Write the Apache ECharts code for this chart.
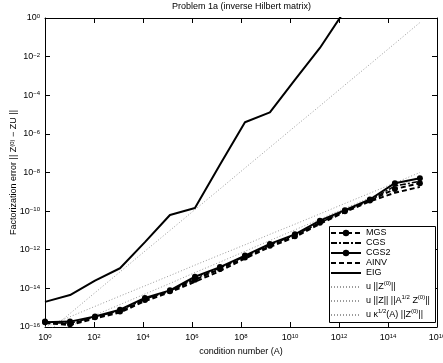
<!DOCTYPE html>
<html>
<head>
<meta charset="utf-8">
<script src="https://cdn.jsdelivr.net/npm/echarts@6/dist/echarts.min.js"></script>
<style>
    html, body { margin: 0; padding: 0; background: #fff; }
    #chart { width: 443px; height: 363px; }
</style>
</head>
<body>
<div id="chart"></div>
<script>
    // condition number of each test matrix
    var condition = [1, 10.5, 110, 1150, 1.2e4, 1.26e5, 1.32e6, 1.38e7, 1.45e8, 1.51e9,
        1.58e10, 1.66e11, 1.74e12, 1.82e13, 1.91e14, 2.0e15];

    // factorization errors
    var mgs = [1.9e-16, 1.4e-16, 3.2e-16, 6.3e-16, 2.5e-15, 7.1e-15, 2.8e-14, 1.0e-13, 4.0e-13, 1.6e-12,
        5.0e-12, 2.5e-11, 1.0e-10, 3.5e-10, 1.4e-9, 2.8e-9];
    var cgs = [1.66e-16, 1.6e-16, 3.2e-16, 7.1e-16, 2.8e-15, 7.1e-15, 3.2e-14, 1.12e-13, 4.5e-13, 1.8e-12,
        5.6e-12, 2.5e-11, 1.0e-10, 3.5e-10, 2.0e-9, 3.5e-9];
    var cgs2 = [1.78e-16, 1.9e-16, 3.5e-16, 7.9e-16, 3.2e-15, 7.9e-15, 4.0e-14, 1.26e-13, 5.0e-13, 2.0e-12,
        6.3e-12, 3.2e-11, 1.12e-10, 4.0e-10, 2.8e-9, 5.0e-9];
    var ainv = [1.6e-16, 1.26e-16, 2.8e-16, 5.6e-16, 2.2e-15, 6.3e-15, 2.2e-14, 7.9e-14, 3.5e-13, 1.4e-12,
        4.5e-12, 2.2e-11, 8.9e-11, 3.2e-10, 8.9e-10, 1.8e-9];
    var eig = [2.0e-15, 4.5e-15, 2.5e-14, 1.1e-13, 2.5e-12, 6.3e-11, 1.45e-10, 2.5e-8, 4.0e-6, 1.3e-5,
        6.3e-4, 2.8e-2, 2.5];

    // reference bounds
    var boundZ0 = [4.3e-17, 5.0e-16, 6.0e-15, 7.1e-14, 8.5e-13, 1.0e-11, 1.2e-10, 1.4e-9, 1.7e-8, 2.0e-7,
        2.4e-6, 2.8e-5, 3.4e-4, 4.0e-3, 4.8e-2, 0.58];
    var boundZA = [1.0e-16, 3.4e-16, 1.17e-15, 4.0e-15, 1.35e-14, 4.6e-14, 1.6e-13, 5.4e-13, 1.8e-12, 6.3e-12,
        2.1e-11, 7.2e-11, 2.5e-10, 8.5e-10, 2.9e-9, 1.0e-8];
    var boundKappa = [3.2e-17, 1.1e-16, 4.1e-16, 1.45e-15, 5.1e-15, 1.8e-14, 6.6e-14, 2.3e-13, 8.3e-13, 3.0e-12,
        1.07e-11, 3.8e-11, 1.4e-10, 4.9e-10, 1.7e-9, 6.3e-9];

    // tick positions
    var xTicks = [1, 1e2, 1e4, 1e6, 1e8, 1e10, 1e12, 1e14, 1e16];
    var yTicks = [1e-16, 1e-14, 1e-12, 1e-10, 1e-8, 1e-6, 1e-4, 1e-2, 1];

    var legendText = {
        'bound1': 'u ||Z{sup|(0)}||',
        'bound2': 'u ||Z|| ||A{sup|1/2} Z{sup|(0)}||',
        'bound3': 'u \u03ba{sup|1/2}(A) ||Z{sup|(0)}||'
    };

    function pairs(ys) {
        return ys.map(function (y, i) { return [condition[i], y]; });
    }

    var font = 'Liberation Sans, Arial, sans-serif';
    var sup = { fontSize: 6, verticalAlign: 'top', lineHeight: 6, fontFamily: font, color: '#000' };

    function powLabel(v) {
        var e = Math.round(Math.log10(v));
        return '10{sup|' + (e < 0 ? '\u2212' + (-e) : e) + '}';
    }

    function dotted(name, ys) {
        return {
            name: name, type: 'line', data: pairs(ys), symbol: 'none',
            itemStyle: { color: '#9a9a9a' },
            lineStyle: { color: '#9a9a9a', width: 1, type: [1, 2] }, z: 1
        };
    }

    function curve(name, ys, dash, width, marker) {
        return {
            name: name, type: 'line', data: pairs(ys),
            symbol: marker ? 'circle' : 'none', symbolSize: 6, showSymbol: !!marker,
            itemStyle: { color: '#000' },
            lineStyle: { color: '#000', width: width, type: dash }, z: 3
        };
    }

    function axis(ticks, extra) {
        return Object.assign({
            type: 'log', logBase: 10,
            min: ticks[0], max: ticks[ticks.length - 1],
            axisLine: { lineStyle: { color: '#000', width: 1 } },
            axisTick: { inside: true, length: 5, customValues: ticks, lineStyle: { color: '#000' } },
            splitLine: { show: false }
        }, extra);
    }

    function tickLabels(ticks, margin) {
        return {
            customValues: ticks, formatter: powLabel, margin: margin, color: '#000',
            fontSize: 9, fontFamily: font, rich: { sup: sup }
        };
    }

    var hidden = { color: 'rgba(0,0,0,0)' };

    var chart = echarts.init(document.getElementById('chart'));
    chart.setOption({
        animation: false,
        title: {
            text: 'Problem 1a (inverse Hilbert matrix)',
            left: 172, top: 2, padding: 0,
            textStyle: { fontSize: 9, fontWeight: 'normal', fontFamily: font, color: '#000' }
        },
        grid: { left: 45, right: 6, top: 18, bottom: 36, outerBoundsMode: 'none', containLabel: false },
        xAxis: [
            axis(xTicks, {
                position: 'bottom',
                name: 'condition number (A)', nameLocation: 'middle', nameGap: 20,
                nameMoveOverlap: false,
                nameTextStyle: { fontSize: 9, fontFamily: font, color: '#000' },
                axisLabel: tickLabels(xTicks, 6)
            }),
            axis(xTicks, { position: 'top', axisLabel: { show: false } })
        ],
        yAxis: [
            axis(yTicks, {
                position: 'left',
                name: 'Factorization error || Z{sup|(0)} \u2212 ZU ||',
                nameLocation: 'middle', nameGap: 27,
                nameMoveOverlap: false,
                nameTextStyle: { fontSize: 9, fontFamily: font, color: '#000', rich: { sup: sup } },
                axisLabel: tickLabels(yTicks, 5)
            }),
            axis(yTicks, { position: 'right', axisLabel: { show: false } })
        ],
        legend: [
            {
                data: [
                    'MGS',
                    { name: 'CGS', itemStyle: hidden },
                    'CGS2',
                    { name: 'AINV', itemStyle: hidden },
                    { name: 'EIG', itemStyle: hidden }
                ],
                orient: 'vertical', left: 330, top: 228,
                itemWidth: 30, itemHeight: 8, itemGap: 0, padding: 0,
                textStyle: { fontSize: 9, lineHeight: 10, fontFamily: font, color: '#000' },
                z: 6
            },
            {
                data: [
                    { name: 'bound1', itemStyle: hidden },
                    { name: 'bound2', itemStyle: hidden },
                    { name: 'bound3', itemStyle: hidden }
                ],
                orient: 'vertical', left: 330, top: 280,
                itemWidth: 30, itemHeight: 8, itemGap: 0, padding: 0,
                formatter: function (n) { return legendText[n]; },
                textStyle: { fontSize: 9, lineHeight: 14, fontFamily: font, color: '#000', rich: { sup: sup } },
                z: 6
            }
        ],
        graphic: [{
            type: 'rect', z: 5,
            shape: { x: 329.5, y: 226.5, width: 106, height: 96 },
            style: { fill: '#fff', stroke: '#000', lineWidth: 1 }
        }],
        series: [
            dotted('bound1', boundZ0),
            dotted('bound2', boundZA),
            dotted('bound3', boundKappa),
            curve('MGS', mgs, [5, 3], 2, true),
            curve('CGS', cgs, [6, 2, 2, 2], 1.5, false),
            curve('CGS2', cgs2, 'solid', 2, true),
            curve('AINV', ainv, [5, 3], 2, false),
            curve('EIG', eig, 'solid', 2, false)
        ]
    });
</script>
</body>
</html>
